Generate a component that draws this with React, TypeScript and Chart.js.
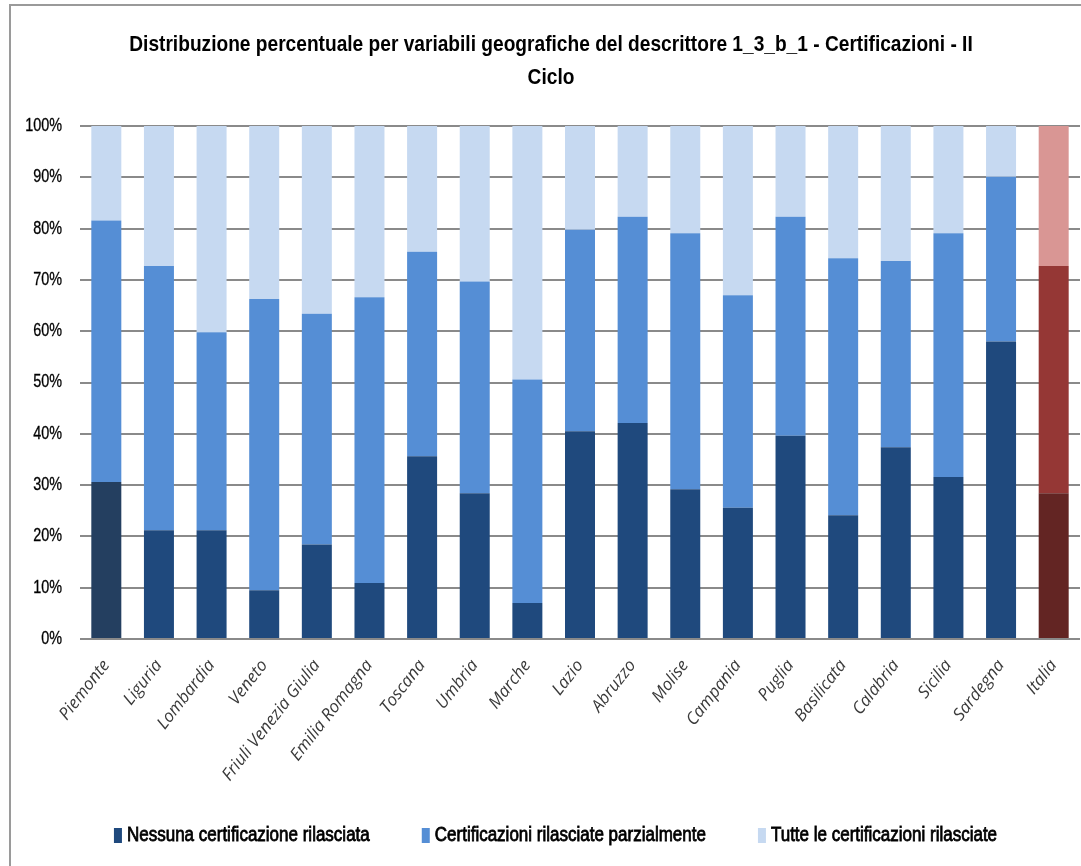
import React, { useEffect, useRef } from "react";
import { Chart, registerables } from "chart.js";

Chart.register(...registerables);

const regions = [
  "Piemonte", "Liguria", "Lombardia", "Veneto", "Friuli Venezia Giulia", "Emilia Romagna",
  "Toscana", "Umbria", "Marche", "Lazio", "Abruzzo", "Molise", "Campania", "Puglia",
  "Basilicata", "Calabria", "Sicilia", "Sardegna", "Italia",
];

// Percentages per region (each column sums to 100)
const nessuna = [30.6, 21.2, 21.2, 9.5, 18.4, 10.9, 35.6, 28.4, 7.0, 40.5, 42.1, 29.2, 25.6, 39.6, 24.1, 37.4, 31.6, 58.0, 28.4];
const parziali = [51.0, 51.5, 38.6, 56.8, 45.0, 55.7, 39.9, 41.3, 43.6, 39.3, 40.2, 49.9, 41.4, 42.7, 50.1, 36.3, 47.5, 32.1, 44.3];
const tutte = [18.4, 27.3, 40.2, 33.7, 36.6, 33.4, 24.5, 30.3, 49.4, 20.2, 17.7, 20.9, 33.0, 17.7, 25.8, 26.3, 20.9, 9.9, 27.3];

const yTicks = [0, 10, 20, 30, 40, 50, 60, 70, 80, 90, 100];

const titleLines = [
  "Distribuzione percentuale per variabili geografiche del descrittore 1_3_b_1 - Certificazioni - II",
  "Ciclo",
];

const seriesLabels = [
  "Nessuna certificazione rilasciata",
  "Certificazioni rilasciate parzialmente",
  "Tutte le certificazioni rilasciate",
];

const blueDark = "#1F497D";
const blueMid = "#558ED5";
const blueLight = "#C6D9F1";
const redDark = "#632523";
const redMid = "#953735";
const redLight = "#D99694";
const seriesColors = [blueDark, blueMid, blueLight];

const sans = "'Liberation Sans', Arial, sans-serif";

const colorsFor = (base: string, italy: string, first?: string) =>
  regions.map((r, i) => (r === "Italia" ? italy : i === 0 && first ? first : base));

// Draws text horizontally condensed around (x, y)
function condensedText(
  ctx: CanvasRenderingContext2D,
  text: string,
  x: number,
  y: number,
  sx: number,
  align: CanvasTextAlign,
  stroke = 0
) {
  ctx.save();
  ctx.translate(x, y);
  ctx.scale(sx, 1);
  ctx.textAlign = align;
  ctx.textBaseline = "middle";
  ctx.fillText(text, 0, 0);
  if (stroke > 0) {
    ctx.lineWidth = stroke;
    ctx.strokeStyle = ctx.fillStyle as string;
    ctx.strokeText(text, 0, 0);
  }
  ctx.restore();
}

const framePlugin = {
  id: "frame",
  beforeDraw(chart: Chart) {
    const ctx = chart.ctx;
    ctx.save();
    ctx.fillStyle = "#ffffff";
    ctx.fillRect(0, 0, chart.width, chart.height);
    ctx.strokeStyle = "#9a9a9a";
    ctx.lineWidth = 2;
    ctx.strokeRect(10, 5, chart.width + 20, chart.height + 20);
    ctx.restore();
  },
};

// Title, percentage tick labels and legend, condensed like a narrow typeface
const textPlugin = {
  id: "narrowText",
  afterDraw(chart: Chart) {
    const ctx = chart.ctx;
    const cx = 551;
    ctx.save();
    ctx.fillStyle = "#000";
    ctx.font = `bold 22px ${sans}`;
    condensedText(ctx, titleLines[0], cx, 45, 0.87, "center");
    condensedText(ctx, titleLines[1], cx, 78, 0.87, "center");

    const yScale: any = chart.scales.y;
    ctx.font = `18px ${sans}`;
    yTicks.forEach((v) => {
      condensedText(ctx, `${v}%`, 62, yScale.getPixelForValue(v), 0.8, "right", 0.3);
    });

    const sx = 0.85;
    const boxW = 8;
    const boxH = 15;
    const boxGap = 5;
    const itemGap = 52;
    ctx.font = `20px ${sans}`;
    const widths = seriesLabels.map((t) => ctx.measureText(t).width * sx);
    const total = widths.reduce((a, w) => a + boxW + boxGap + w, 0) + itemGap * (seriesLabels.length - 1);
    let x = 555.5 - total / 2;
    const y = 835;
    seriesLabels.forEach((t, i) => {
      ctx.fillStyle = seriesColors[i];
      ctx.fillRect(x, y - 7, boxW, boxH);
      ctx.fillStyle = "#000";
      condensedText(ctx, t, x + boxW + boxGap, y, sx, "left", 0.8);
      x += boxW + boxGap + widths[i] + itemGap;
    });
    ctx.restore();
  },
};

export default function App() {
  const ref = useRef<HTMLCanvasElement | null>(null);

  useEffect(() => {
    if (!ref.current) return;
    const chart = new Chart(ref.current, {
      type: "bar",
      data: {
        labels: regions,
        datasets: [
          { label: seriesLabels[0], data: nessuna, backgroundColor: colorsFor(blueDark, redDark, "#243F60") },
          { label: seriesLabels[1], data: parziali, backgroundColor: colorsFor(blueMid, redMid) },
          { label: seriesLabels[2], data: tutte, backgroundColor: colorsFor(blueLight, redLight) },
        ],
      },
      options: {
        animation: false,
        responsive: false,
        layout: { padding: { left: 20, right: 1, top: 126, bottom: 50 } },
        datasets: { bar: { barPercentage: 0.57, categoryPercentage: 1 } },
        scales: {
          x: {
            stacked: true,
            grid: { display: false },
            border: { display: false },
            ticks: {
              autoSkip: false,
              maxRotation: 52,
              minRotation: 52,
              padding: 9,
              color: "#3a3a3a",
              font: { family: "'Open Sans', sans-serif", size: 17, style: "italic" },
            },
            afterFit(scale: any) {
              scale.height = 177;
            },
          },
          y: {
            stacked: true,
            min: 0,
            max: 100,
            afterBuildTicks(scale: any) {
              scale.ticks = yTicks.map((v) => ({ value: v }));
            },
            ticks: { display: false },
            grid: { color: "#8a8a8a", lineWidth: 2, drawTicks: false },
            border: { display: false },
            afterFit(scale: any) {
              scale.width = 60;
            },
          },
        },
        plugins: {
          title: { display: false },
          legend: { display: false },
          tooltip: { enabled: false },
        },
      },
      plugins: [framePlugin, textPlugin],
    });
    return () => chart.destroy();
  }, []);

  return (
    <div style={{ position: "fixed", left: 0, top: 0, width: 1081, height: 866 }}>
      <canvas ref={ref} width={1081} height={866} style={{ width: 1081, height: 866 }} />
    </div>
  );
}
